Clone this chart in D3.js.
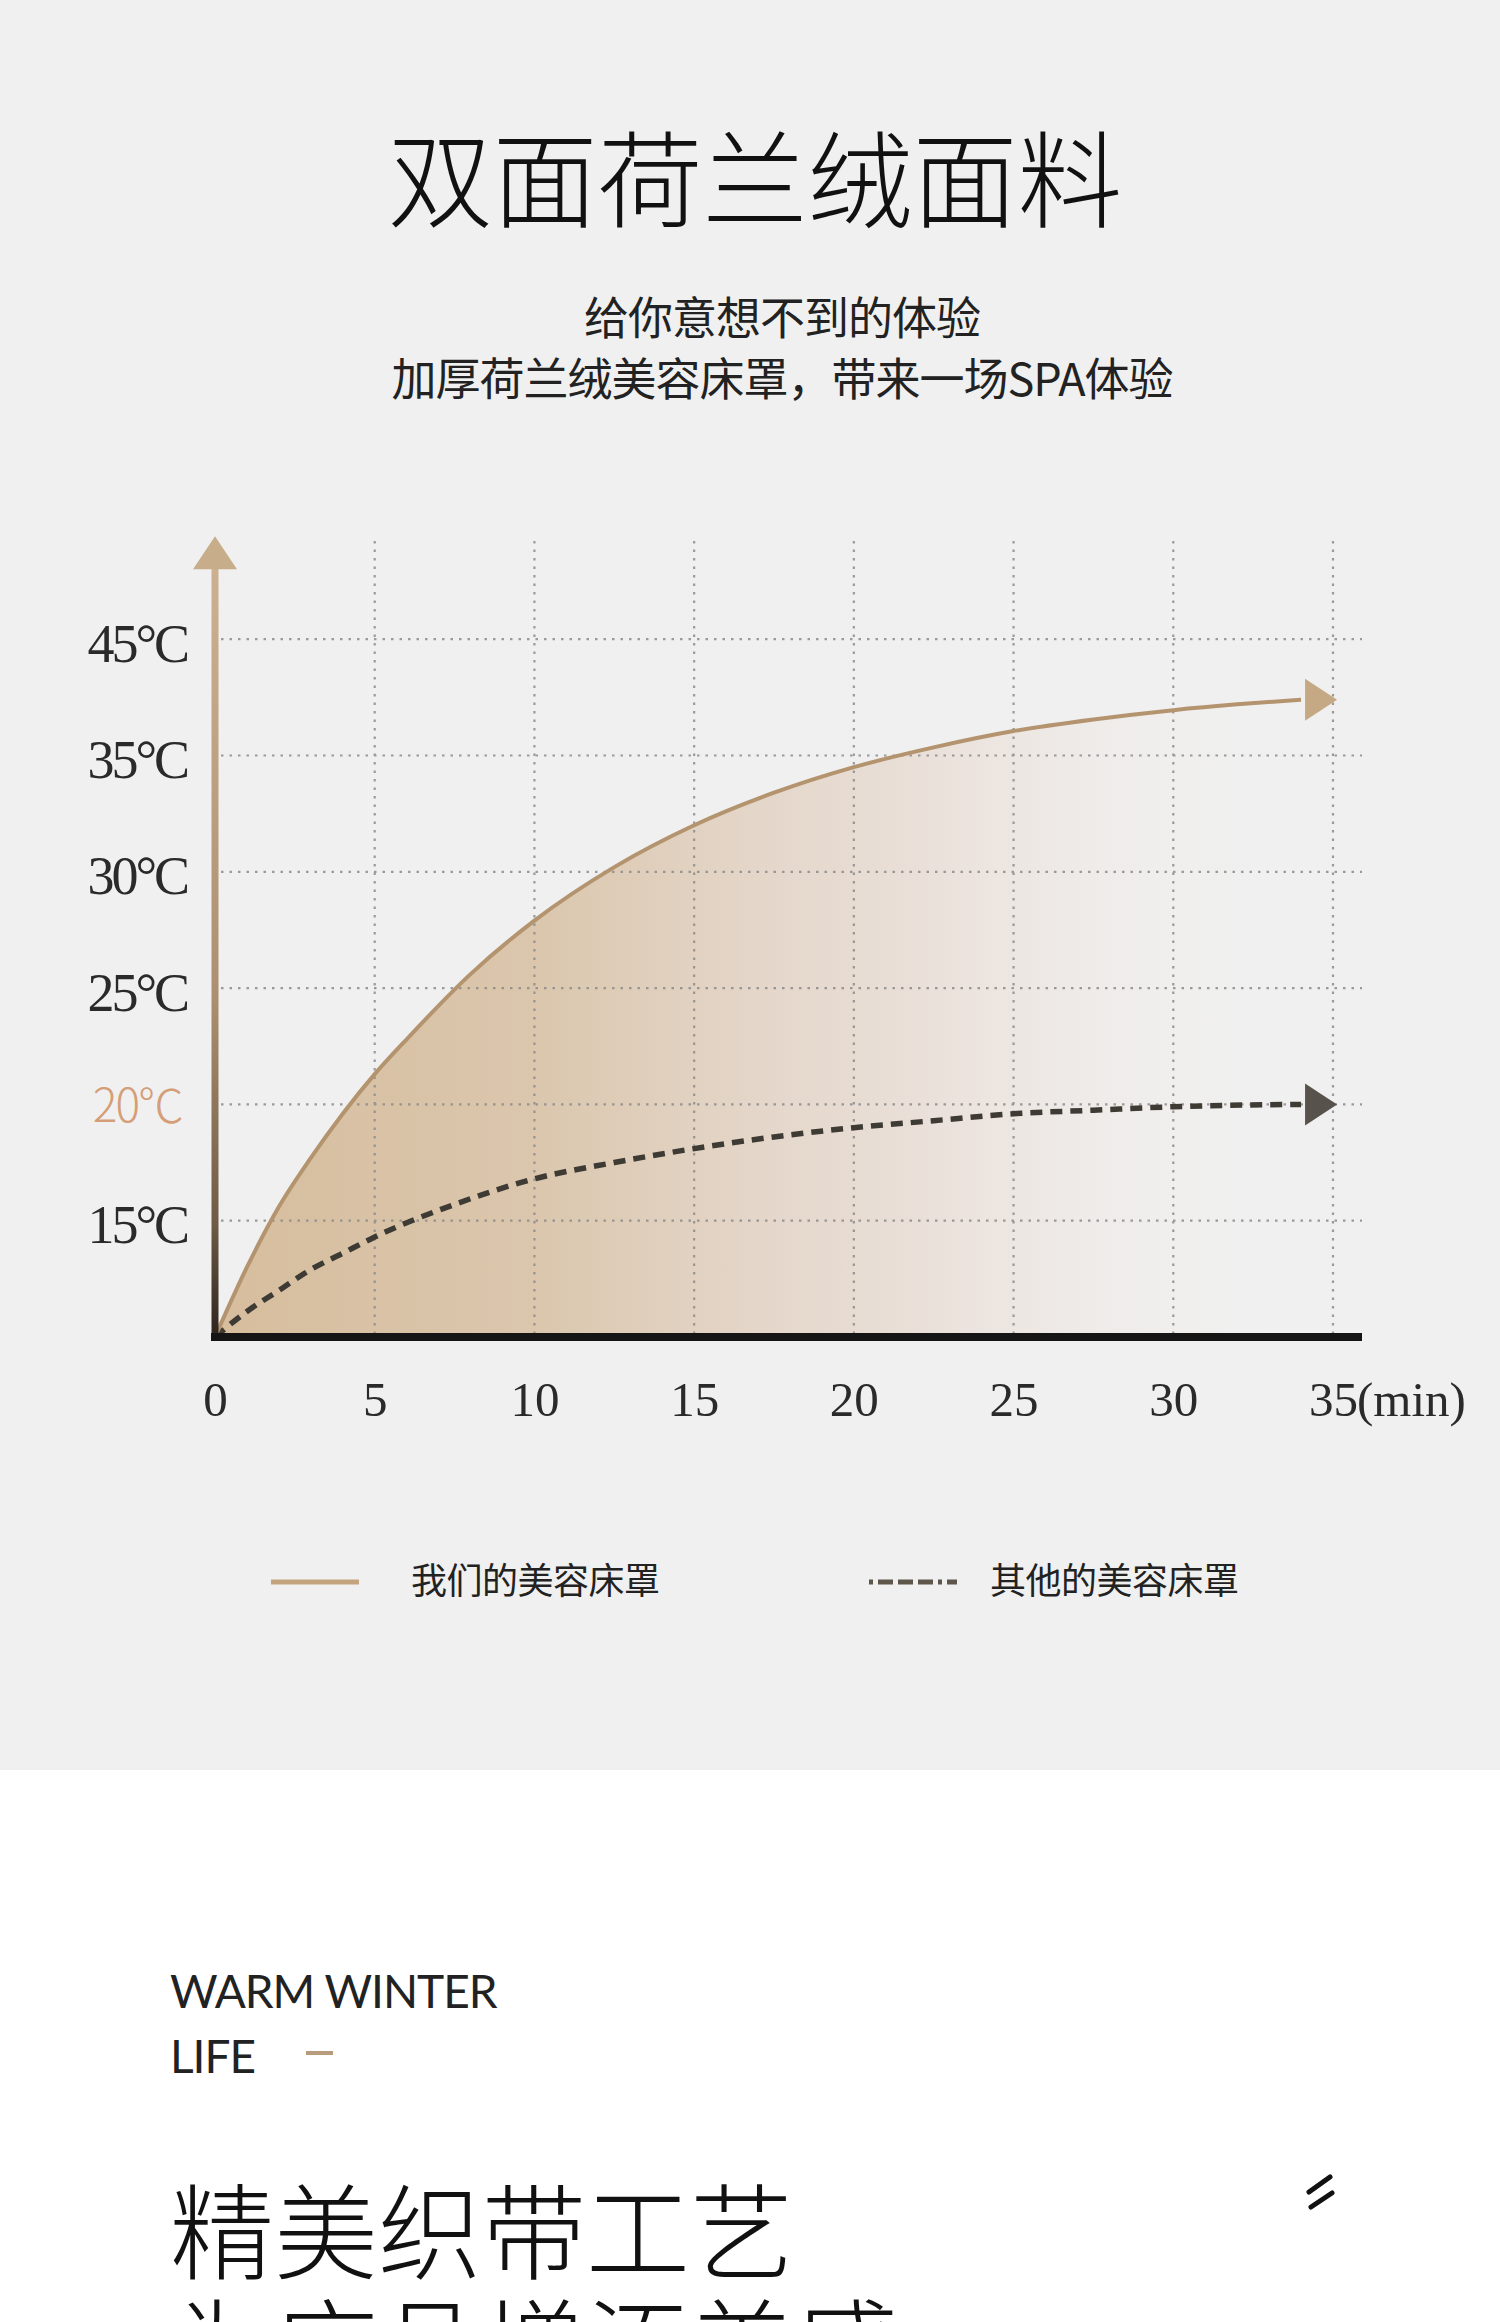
<!DOCTYPE html>
<html>
<head>
<meta charset="utf-8">
<script src="https://cdn.jsdelivr.net/npm/d3@7"></script>
<style>
  html, body { margin: 0; padding: 0; background: #ffffff; }
  svg { display: block; }
</style>
</head>
<body>
<svg id="chart" width="1500" height="2322"></svg>
<script>
// ---------- data ----------
const titleText = "双面荷兰绒面料";
const subtitleLines = ["给你意想不到的体验", "加厚荷兰绒美容床罩，带来一场SPA体验"];
const seriesNames = ["我们的美容床罩", "其他的美容床罩"];

const xTicks = [0, 5, 10, 15, 20, 25, 30, 35];
const xUnit = "(min)";
const yLevels = [10, 15, 20, 25, 30, 35, 45];          // evenly spaced levels on the drawn axis
const yTicks = [15, 20, 25, 30, 35, 45];
const yTickLabels = ["15°C", "20℃", "25°C", "30°C", "35°C", "45°C"];
const yHighlight = 20;

// our bed cover (solid)
const oursMinutes = [0, 1, 2, 3, 4, 5, 6, 8, 10, 12.5, 15, 17.5, 20, 22.5, 25, 27.5, 30, 32, 34];
const oursTemps   = [10, 13.0, 15.6, 17.7, 19.6, 21.3, 22.8, 25.6, 27.9, 30.2, 32.0, 33.4, 34.5, 35.7, 37.1, 38.1, 38.9, 39.4, 39.8];
// other bed covers (dashed)
const otherMinutes = [0, 1, 2, 3, 4, 5, 7.5, 10, 12.5, 15, 17.5, 20, 22.5, 25, 27.5, 30, 34];
const otherTemps   = [10, 11.1, 12.0, 12.9, 13.6, 14.3, 15.7, 16.8, 17.5, 18.1, 18.6, 19.0, 19.3, 19.6, 19.75, 19.9, 20];

const lowerTitle = ["WARM WINTER", "LIFE"];
const lowerHeading = ["精美织带工艺", "为床品增添美感"];

// ---------- layout ----------
const W = 1500, H = 2322;
const grayBottom = 1770;
const x0 = 215, x1 = 1333;
const yBase = 1337, yStep = 116.3;
const gridRight = 1362, gridTop = 541;

const svg = d3.select("#chart");
const defs = svg.append("defs");

const xScale = d3.scaleLinear().domain([0, 35]).range([x0, x1]);
const yScale = d3.scaleLinear().domain(yLevels).range(yLevels.map((d, i) => yBase - i * yStep));

// backgrounds
svg.append("rect").attr("x", 0).attr("y", 0).attr("width", W).attr("height", H).attr("fill", "#ffffff");
svg.append("rect").attr("x", 0).attr("y", 0).attr("width", W).attr("height", grayBottom).attr("fill", "#f0f0f0");

// title texts
svg.append("text").attr("x", 755).attr("y", 219).attr("text-anchor", "middle")
  .attr("font-family", "'Noto Sans CJK SC'").attr("font-weight", 300).attr("font-size", 105)
  .attr("fill", "#111").text(titleText);
svg.selectAll("text.sub").data(subtitleLines).enter().append("text").attr("class", "sub")
  .attr("x", 782).attr("y", (d, i) => 335 + i * 61).attr("text-anchor", "middle")
  .attr("font-family", "'Noto Sans CJK SC'").attr("font-weight", 400).attr("font-size", 45)
  .attr("letter-spacing", -1)
  .attr("fill", "#222").text(d => d);

// gradients
const areaGrad = defs.append("linearGradient").attr("id", "areaGrad")
  .attr("gradientUnits", "userSpaceOnUse").attr("x1", x0).attr("y1", 0).attr("x2", 1300).attr("y2", 0);
[[0, "#d6bd9d", 1], [0.3, "#dbc7ae", 1], [0.5, "#e4d6c9", 1], [0.68, "#ebe2dc", 1], [0.88, "#f0eeec", 0.6], [1, "#f0f0f0", 0]]
  .forEach(s => areaGrad.append("stop").attr("offset", s[0]).attr("stop-color", s[1]).attr("stop-opacity", s[2]));

const axisGrad = defs.append("linearGradient").attr("id", "axisGrad")
  .attr("x1", 0).attr("y1", 0).attr("x2", 0).attr("y2", 1);
[[0, "#ccb090"], [0.55, "#ad9070"], [0.85, "#6e5a45"], [1, "#2a221b"]]
  .forEach(s => axisGrad.append("stop").attr("offset", s[0]).attr("stop-color", s[1]));

const oursData = oursMinutes.map((m, i) => ({ m, t: oursTemps[i] }));
const otherData = otherMinutes.map((m, i) => ({ m, t: otherTemps[i] }));

// area under our curve
const area = d3.area().x(d => xScale(d.m)).y0(yScale(10)).y1(d => yScale(d.t)).curve(d3.curveMonotoneX);
svg.append("path").datum(oursData).attr("d", area).attr("fill", "url(#areaGrad)");

// grid
const grid = svg.append("g").attr("stroke", "#8c8c8c").attr("stroke-width", 2.2)
  .attr("stroke-dasharray", "2.5,6").attr("opacity", 0.85);
grid.selectAll("line.h").data(yTicks).enter().append("line")
  .attr("x1", x0 + 6).attr("x2", gridRight).attr("y1", d => yScale(d)).attr("y2", d => yScale(d));
grid.selectAll("line.v").data(xTicks.slice(1)).enter().append("line")
  .attr("x1", d => xScale(d)).attr("x2", d => xScale(d)).attr("y1", gridTop).attr("y2", yBase - 4);

// lines
const line = d3.line().x(d => xScale(d.m)).y(d => yScale(d.t)).curve(d3.curveMonotoneX);
svg.append("path").datum(otherData).attr("d", line).attr("fill", "none")
  .attr("stroke", "#3e3a34").attr("stroke-width", 5.5).attr("stroke-dasharray", "12,8");
svg.append("path").datum(oursData).attr("d", line).attr("fill", "none")
  .attr("stroke", "#b4946f").attr("stroke-width", 4);

// arrowheads at the end of each series
function arrowHead(data, color) {
  const last = data[data.length - 1];
  const bx = xScale(last.m) + 4, by = yScale(last.t);
  svg.append("path")
    .attr("d", `M${bx},${by - 21}L${bx + 32},${by}L${bx},${by + 21}Z`)
    .attr("fill", color);
}
arrowHead(oursData, "#c5a985");
arrowHead(otherData, "#57524b");

// y axis line with arrow
const yTop = yScale(45) - 71;
svg.append("rect").attr("x", x0 - 3.5).attr("y", yTop).attr("width", 7).attr("height", yBase - yTop + 4)
  .attr("fill", "url(#axisGrad)");
svg.append("path")
  .attr("d", `M${x0 - 22},${yTop + 1}L${x0},${yTop - 32}L${x0 + 22},${yTop + 1}Z`)
  .attr("fill", "#c8ad8b");

// x axis line
svg.append("line").attr("x1", x0 - 4).attr("x2", gridRight).attr("y1", yBase).attr("y2", yBase)
  .attr("stroke", "#151515").attr("stroke-width", 8);

// x axis labels
const xAxis = d3.axisBottom(xScale).tickValues(xTicks).tickSize(0).tickFormat(d3.format("d"));
const gx = svg.append("g").attr("transform", `translate(0,${yBase})`).call(xAxis);
gx.select(".domain").remove();
gx.selectAll("text").attr("y", 79).attr("dy", null)
  .attr("font-family", "'Liberation Serif'").attr("font-size", 49).attr("fill", "#2a2a2a");
gx.append("text").attr("x", xScale(35) + 24).attr("y", 79).attr("text-anchor", "start")
  .attr("font-family", "'Liberation Serif'").attr("font-size", 49).attr("fill", "#2a2a2a").text(xUnit);

// y axis labels
const yAxis = d3.axisLeft(yScale).tickValues(yTicks).tickSize(0)
  .tickFormat(d => yTickLabels[yTicks.indexOf(d)]);
const gy = svg.append("g").attr("transform", `translate(${x0},0)`).call(yAxis);
gy.select(".domain").remove();
gy.selectAll("text")
  .attr("x", d => d === yHighlight ? -33 : -28)
  .attr("font-family", d => d === yHighlight ? "'Noto Sans CJK SC'" : "'Liberation Serif'")
  .attr("font-weight", d => d === yHighlight ? 300 : 400)
  .attr("font-size", d => d === yHighlight ? 46 : 54)
  .attr("letter-spacing", d => d === yHighlight ? -2 : -3)
  .attr("fill", d => d === yHighlight ? "#d49e78" : "#2a2a2a")
  .attr("dy", d => d === yHighlight ? 17 : 22);

// legend
const legend = svg.append("g");
legend.append("line").attr("x1", 271).attr("x2", 359).attr("y1", 1582).attr("y2", 1582)
  .attr("stroke", "#c4a47e").attr("stroke-width", 5);
legend.append("line").attr("x1", 869).attr("x2", 957).attr("y1", 1582).attr("y2", 1582)
  .attr("stroke", "#5e554b").attr("stroke-width", 5).attr("stroke-dasharray", "4,5,15,5,15,5,15,5");
legend.selectAll("text").data(seriesNames).enter().append("text")
  .attr("x", (d, i) => i === 0 ? 411 : 990).attr("y", 1594)
  .attr("font-family", "'Noto Sans CJK SC'").attr("font-size", 36).attr("letter-spacing", -0.5)
  .attr("fill", "#222").text(d => d);

// lower section
svg.selectAll("text.en").data(lowerTitle).enter().append("text").attr("class", "en")
  .attr("x", 170).attr("y", (d, i) => 2008 + i * 65)
  .attr("font-family", "Lato").attr("font-size", 46).attr("letter-spacing", -1)
  .attr("fill", "#222").text(d => d);
svg.append("line").attr("x1", 306).attr("x2", 333).attr("y1", 2053).attr("y2", 2053)
  .attr("stroke", "#b99c7d").attr("stroke-width", 4);
svg.selectAll("text.cn").data(lowerHeading).enter().append("text").attr("class", "cn")
  .attr("x", 170).attr("y", (d, i) => 2272 + i * 115)
  .attr("font-family", "'Noto Sans CJK SC'").attr("font-weight", 300).attr("font-size", 104)
  .attr("fill", "#111").text(d => d);
const mark = svg.append("g").attr("stroke", "#111").attr("stroke-width", 5).attr("stroke-linecap", "round");
mark.append("line").attr("x1", 1309).attr("y1", 2192).attr("x2", 1330).attr("y2", 2177);
mark.append("line").attr("x1", 1311).attr("y1", 2207).attr("x2", 1332).attr("y2", 2193);
</script>
</body>
</html>
